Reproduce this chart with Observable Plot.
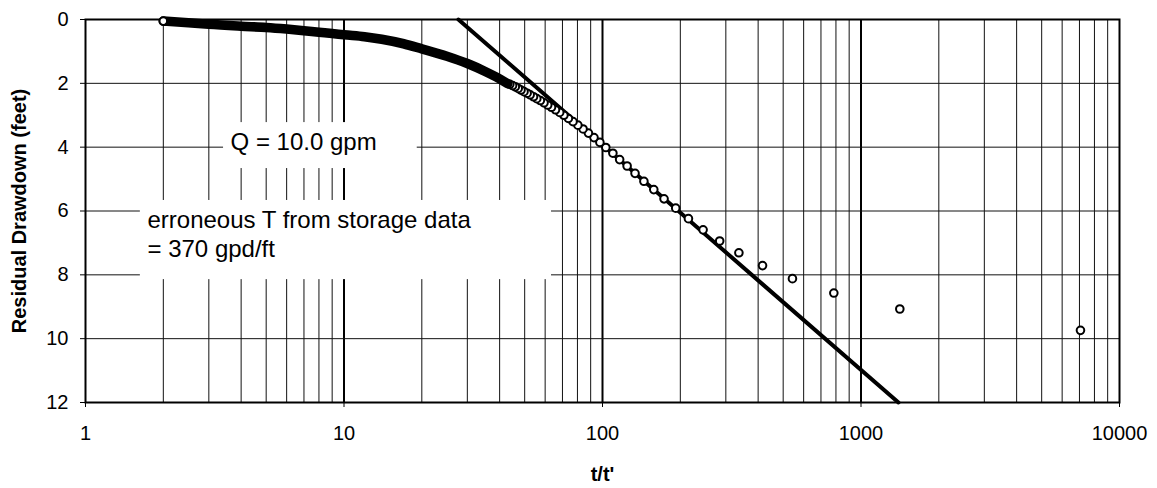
<!DOCTYPE html>
<html><head><meta charset="utf-8">
<script src="https://cdn.jsdelivr.net/npm/d3@7"></script>
<script src="https://cdn.jsdelivr.net/npm/@observablehq/plot@0.6"></script>
<style>
html,body{margin:0;padding:0;background:#fff;}
#chart svg{font-family: Arial, "Liberation Sans", sans-serif;}
#chart g[aria-label="y-axis label"] text{font-weight:bold;}
</style></head><body><div id="chart"></div>
<script>
// Dense early recovery data (t/t' from 2 to ~43), read along the band centre
const bandX = [2, 2.5, 3, 4, 5, 6, 7, 8, 9, 10, 12, 14, 17, 20, 25, 30, 35, 40, 43];
const bandY = [0.05, 0.10, 0.15, 0.21, 0.25, 0.30, 0.35, 0.40, 0.44, 0.48, 0.54, 0.62, 0.76, 0.92, 1.15, 1.38, 1.62, 1.86, 2.01];

// Individually visible recovery points (in recorded order, t/t' decreasing)
const ptsX = [7063, 1413, 785, 543, 416, 337, 284, 245, 215, 192, 173, 157.9, 144.6, 133.6, 124.5, 116.5, 109.7, 103, 97.7, 92.7, 88.2, 84.1, 80.3, 76.9, 73.8, 70.9, 68.3, 65.8, 63.5, 61.4, 59.4, 57.5, 55.7, 54.1, 52.5, 51.1, 49.7, 48.4, 47.2, 46.0, 44.9, 43.8];
const ptsY = [9.74, 9.07, 8.57, 8.12, 7.71, 7.31, 6.94, 6.59, 6.24, 5.91, 5.62, 5.33, 5.07, 4.82, 4.59, 4.39, 4.19, 4.01, 3.85, 3.70, 3.56, 3.43, 3.31, 3.20, 3.10, 3.00, 2.91, 2.83, 2.75, 2.68, 2.61, 2.54, 2.48, 2.42, 2.36, 2.31, 2.26, 2.21, 2.16, 2.11, 2.07, 2.03];

// Fitted straight line
const fitX = [27.7, 1396];
const fitY = [0, 12];

// Axis ticks
const xTicks = [1, 10, 100, 1000, 10000];
const yTicks = [0, 2, 4, 6, 8, 10, 12];
const yGrid = [2, 4, 6, 8, 10];
const xDecades = [10, 100, 1000];
const xMinor = [];
for (const d of [1, 10, 100, 1000]) for (const m of [2,3,4,5,6,7,8,9]) xMinor.push(m * d);

// Annotations
const noteText = ["Q = 10.0 gpm", "erroneous T from storage data\n= 370 gpd/ft"];
const noteX = [3.64, 1.737];
const noteY = [3.79, 6.71];
const boxX1 = [3.42, 1.63], boxX2 = [19.2, 63.5], boxY1 = [3.23, 5.67], boxY2 = [4.67, 8.15];

const pts = ptsX.map((x, i) => ({x, y: ptsY[i]}));
const band = bandX.map((x, i) => ({x, y: bandY[i]}));
const fit = fitX.map((x, i) => ({x, y: fitY[i]}));
const notes = noteText.map((t, i) => ({t, x: noteX[i], y: noteY[i]}));
const boxes = boxX1.map((x1, i) => ({x1, x2: boxX2[i], y1: boxY1[i], y2: boxY2[i]}));

const chart = Plot.plot({
  width: 1157,
  height: 488,
  marginLeft: 85,
  marginRight: 38,
  marginTop: 19,
  marginBottom: 86,
  style: {background: "white", color: "black", fontFamily: "Arial, 'Liberation Sans', sans-serif"},
  x: {type: "log", domain: [1, 10000]},
  y: {domain: [0, 12], reverse: true},
  marks: [
    Plot.ruleX(xMinor, {stroke: "#111", strokeWidth: 1}),
    Plot.ruleX(xDecades, {stroke: "#000", strokeWidth: 2}),
    Plot.ruleY(yGrid, {stroke: "#111", strokeWidth: 1}),
    Plot.rect(boxes, {x1: "x1", x2: "x2", y1: "y1", y2: "y2", fill: "white"}),
    Plot.text(notes, {x: "x", y: "y", text: "t", textAnchor: "start", fontSize: 24, lineHeight: 1.2, fill: "black"}),
    Plot.frame({stroke: "black", strokeWidth: 2}),
    Plot.line(fit, {x: "x", y: "y", stroke: "black", strokeWidth: 4}),
    Plot.dot(pts, {x: "x", y: "y", r: 3.8, stroke: "black", strokeWidth: 2, fill: "white"}),
    Plot.line(band, {x: "x", y: "y", stroke: "black", strokeWidth: 9.6, strokeLinecap: "round", curve: "monotone-x"}),
    Plot.dot(band.slice(0, 1), {x: "x", y: "y", r: 3.8, stroke: "black", strokeWidth: 2, fill: "white"}),
    Plot.axisX(xTicks, {tickSize: 5, tickPadding: 18, fontSize: 20, tickFormat: d => String(d), label: null}),
    Plot.axisY(yTicks, {tickSize: 5, tickPadding: 12, fontSize: 20, label: "Residual Drawdown (feet)", labelAnchor: "center", labelArrow: "none", labelOffset: 74}),
    Plot.text(["t/t'"], {frameAnchor: "bottom", dy: 78, fontWeight: "bold", fontSize: 20, fill: "black"})
  ]
});
document.getElementById("chart").appendChild(chart);
</script></body></html>
